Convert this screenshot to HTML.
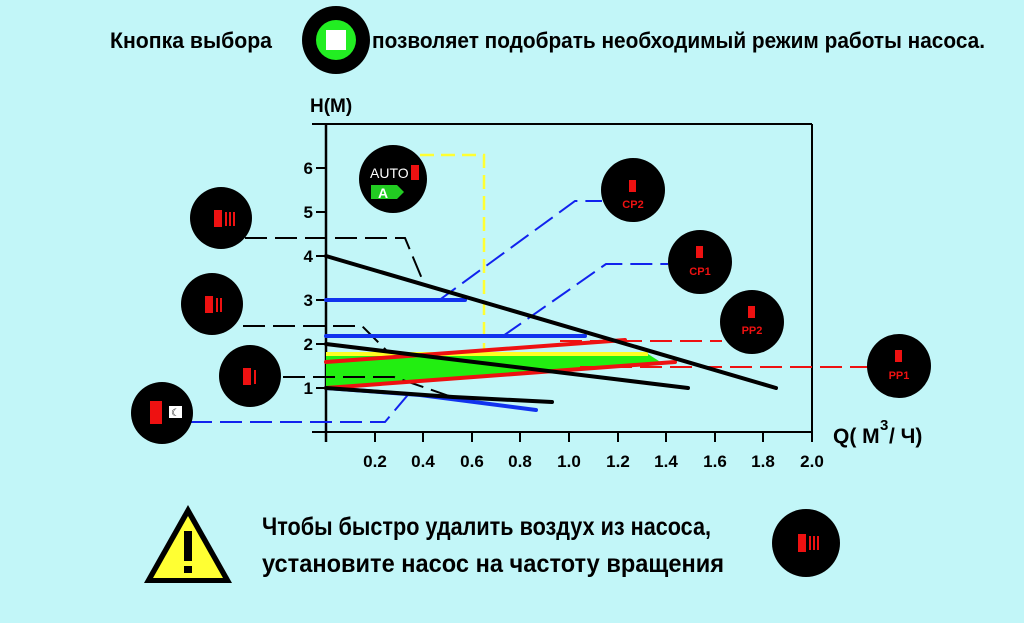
<!DOCTYPE html>
<html><head><meta charset="utf-8"><style>
html,body{margin:0;padding:0;background:#c2f6f8;}
svg{display:block;}
text{font-family:"Liberation Sans Narrow","Liberation Sans","DejaVu Sans",sans-serif;}
</style></head><body>
<svg width="1024" height="623" viewBox="0 0 1024 623" xmlns="http://www.w3.org/2000/svg">
<rect width="1024" height="623" fill="#c2f6f8"/>
<!-- top text -->
<text x="110" y="48" font-size="22" font-weight="bold" textLength="162" lengthAdjust="spacingAndGlyphs">Кнопка выбора</text>
<circle cx="336" cy="40" r="34" fill="#000"/>
<circle cx="336" cy="40" r="20" fill="#22ee22"/>
<rect x="326" y="30" width="20" height="20" fill="#fff"/>
<text x="372" y="48" font-size="22" font-weight="bold" textLength="613" lengthAdjust="spacingAndGlyphs">позволяет подобрать необходимый режим работы насоса.</text>

<!-- axes -->
<text x="310" y="112" font-size="19" font-weight="bold" font-family="Liberation Sans,sans-serif">H(M)</text>
<line x1="312" y1="124" x2="812" y2="124" stroke="#000" stroke-width="2"/>
<line x1="812" y1="124" x2="812" y2="442" stroke="#000" stroke-width="2"/>
<line x1="326" y1="124" x2="326" y2="442" stroke="#000" stroke-width="2.5"/>
<line x1="312" y1="432" x2="812" y2="432" stroke="#000" stroke-width="2"/>
<g stroke="#000" stroke-width="2">
<line x1="316" y1="168" x2="326" y2="168"/><line x1="316" y1="212" x2="326" y2="212"/>
<line x1="316" y1="256" x2="326" y2="256"/><line x1="316" y1="300" x2="326" y2="300"/>
<line x1="316" y1="344" x2="326" y2="344"/><line x1="316" y1="388" x2="326" y2="388"/>
<line x1="375" y1="432" x2="375" y2="442"/><line x1="423" y1="432" x2="423" y2="442"/>
<line x1="472" y1="432" x2="472" y2="442"/><line x1="520" y1="432" x2="520" y2="442"/>
<line x1="569" y1="432" x2="569" y2="442"/><line x1="618" y1="432" x2="618" y2="442"/>
<line x1="666" y1="432" x2="666" y2="442"/><line x1="715" y1="432" x2="715" y2="442"/>
<line x1="763" y1="432" x2="763" y2="442"/>
</g>
<g font-family="Liberation Sans,sans-serif" font-weight="bold" font-size="17" text-anchor="end">
<text x="313" y="174">6</text><text x="313" y="218">5</text><text x="313" y="262">4</text>
<text x="313" y="306">3</text><text x="313" y="350">2</text><text x="313" y="394">1</text>
</g>
<g font-size="17" font-weight="bold" text-anchor="middle" font-family="Liberation Sans,sans-serif">
<text x="375" y="467">0.2</text><text x="423" y="467">0.4</text><text x="472" y="467">0.6</text>
<text x="520" y="467">0.8</text><text x="569" y="467">1.0</text><text x="618" y="467">1.2</text>
<text x="666" y="467">1.4</text><text x="715" y="467">1.6</text><text x="763" y="467">1.8</text>
<text x="812" y="467">2.0</text>
</g>
<text x="833" y="443" font-size="21" font-weight="bold" font-family="Liberation Sans Narrow,Liberation Sans,sans-serif">Q( M</text>
<text x="880" y="430" font-size="15" font-weight="bold">3</text>
<text x="889" y="443" font-size="21" font-weight="bold" font-family="Liberation Sans Narrow,Liberation Sans,sans-serif">/ Ч)</text>

<!-- yellow dashed / green region -->
<polyline points="420,155 484,155 484,354" fill="none" stroke="#ffff33" stroke-width="2.5" stroke-dasharray="14,7"/>
<polygon points="326,354 648,354 662,363 326,388" fill="#22ee11"/>
<line x1="326" y1="354" x2="648" y2="354" stroke="#ffff22" stroke-width="4"/>

<!-- leaders -->
<g fill="none" stroke="#000" stroke-width="2" stroke-dasharray="22,8">
<polyline points="245,238 405,238 425,286"/>
<polyline points="243,326 362,326 386,350"/>
<polyline points="283,377 394,377 452,397"/>
</g>
<g fill="none" stroke="#1122ee" stroke-width="2" stroke-dasharray="22,8">
<polyline points="190,422 385,422 412,390"/>
<polyline points="438,301 575,201 602,201"/>
<polyline points="503,336 606,264 668,264"/>
</g>
<g fill="none" stroke="#ee1111" stroke-width="2" stroke-dasharray="22,8">
<line x1="560" y1="341" x2="722" y2="341"/>
<line x1="580" y1="367" x2="868" y2="367"/>
</g>

<!-- curves -->
<g fill="none" stroke-linecap="round" stroke-width="4">
<line x1="326" y1="300" x2="465" y2="300" stroke="#1133ee"/>
<line x1="326" y1="336" x2="585" y2="336" stroke="#1133ee"/>
<polyline points="326,388 420,395 536,410" stroke="#1133ee"/>
<line x1="326" y1="362" x2="625" y2="340" stroke="#ee1111"/>
<line x1="326" y1="388" x2="675" y2="362" stroke="#ee1111"/>
<line x1="326" y1="256" x2="776" y2="388" stroke="#000"/>
<line x1="326" y1="344" x2="688" y2="388" stroke="#000"/>
<polyline points="326,388 453,397 552,402" stroke="#000"/>
</g>

<!-- circles -->
<circle cx="393" cy="179" r="34" fill="#000"/>
<text x="370" y="178" font-size="14" fill="#fff" font-family="Liberation Sans,sans-serif">AUTO</text>
<rect x="411" y="165" width="8" height="15" fill="#ee1111"/>
<polygon points="371,185 397,185 404,192 397,199 371,199" fill="#22cc22"/>
<text x="378" y="198" font-size="14" font-weight="bold" fill="#fff" font-family="Liberation Sans,sans-serif">A</text>

<circle cx="221" cy="218" r="31" fill="#000"/>
<rect x="214" y="210" width="8" height="17" fill="#ee1111"/>
<g fill="#ee1111"><rect x="225" y="212" width="2" height="14"/><rect x="229" y="212" width="2" height="14"/><rect x="233" y="212" width="2" height="14"/></g>

<circle cx="212" cy="304" r="31" fill="#000"/>
<rect x="205" y="296" width="8" height="17" fill="#ee1111"/>
<g fill="#ee1111"><rect x="216" y="298" width="2" height="14"/><rect x="220" y="298" width="2" height="14"/></g>

<circle cx="250" cy="376" r="31" fill="#000"/>
<rect x="243" y="368" width="8" height="17" fill="#ee1111"/>
<rect x="254" y="370" width="2" height="14" fill="#ee1111"/>

<circle cx="162" cy="413" r="31" fill="#000"/>
<rect x="150" y="401" width="12" height="23" fill="#ee1111"/>
<rect x="169" y="406" width="13" height="12" fill="#fff"/>
<text x="171" y="416" font-size="10" fill="#000">☾</text>

<g font-family="Liberation Sans,sans-serif" font-weight="bold" font-size="11" fill="#ee1111" text-anchor="middle">
<circle cx="633" cy="190" r="32" fill="#000"/>
<rect x="629" y="180" width="7" height="12" fill="#ee1111"/>
<text x="633" y="208">CP2</text>
<circle cx="700" cy="262" r="32" fill="#000"/>
<rect x="696" y="246" width="7" height="12" fill="#ee1111"/>
<text x="700" y="275">CP1</text>
<circle cx="752" cy="322" r="32" fill="#000"/>
<rect x="748" y="306" width="7" height="12" fill="#ee1111"/>
<text x="752" y="334">PP2</text>
<circle cx="899" cy="366" r="32" fill="#000"/>
<rect x="895" y="350" width="7" height="12" fill="#ee1111"/>
<text x="899" y="379">PP1</text>
</g>

<!-- bottom -->
<polygon points="188,505 144,583 232,583" fill="#000"/>
<polygon points="188,516 153,578 223,578" fill="#ffff33"/>
<rect x="184" y="531" width="8" height="30" fill="#000"/>
<rect x="184" y="566" width="8" height="7" fill="#000"/>
<text x="262" y="535" font-size="25" font-weight="bold" textLength="449" lengthAdjust="spacingAndGlyphs">Чтобы быстро удалить воздух из насоса,</text>
<text x="262" y="572" font-size="25" font-weight="bold" textLength="462" lengthAdjust="spacingAndGlyphs">установите насос на частоту вращения</text>
<circle cx="806" cy="543" r="34" fill="#000"/>
<rect x="798" y="534" width="8" height="18" fill="#ee1111"/>
<g fill="#ee1111"><rect x="809" y="536" width="2" height="14"/><rect x="813" y="536" width="2" height="14"/><rect x="817" y="536" width="2" height="14"/></g>
</svg>
</body></html>
